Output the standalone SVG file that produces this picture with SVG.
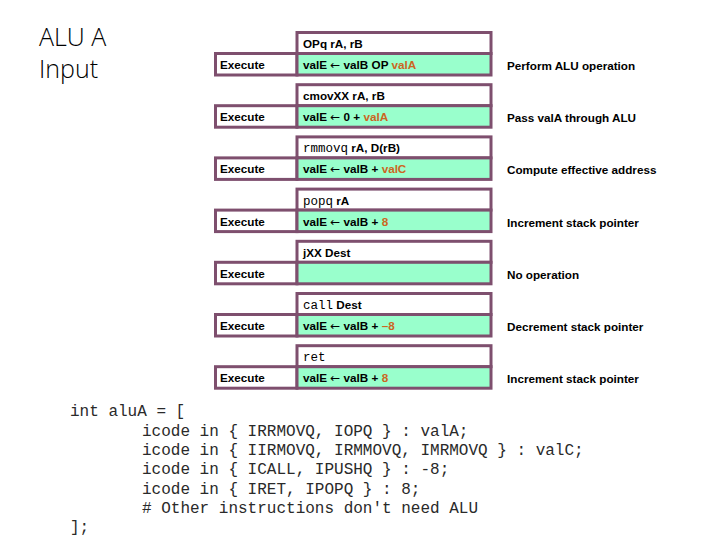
<svg xmlns="http://www.w3.org/2000/svg" width="719" height="539" viewBox="0 0 719 539">
<style>
.bx{fill:#ffffff;stroke:#7E4F6E;stroke-width:3}
.gr{fill:#99FFCC;stroke:#7E4F6E;stroke-width:3}
.t{font-family:"Liberation Sans",Arial,sans-serif;font-size:11.7px;font-weight:bold;fill:#000}
.o{fill:#CC6622}
.a{font-family:"DejaVu Sans",sans-serif;font-weight:normal;font-size:12px}
.m{font-family:"Liberation Mono","Courier New",monospace;font-weight:normal;font-size:12.5px}
.title{font-family:"Open Sans","Liberation Sans",sans-serif;font-weight:300;font-size:25px;fill:#000}
.code{font-family:"Liberation Mono","Courier New",monospace;font-size:16px;fill:#2a2a2a;white-space:pre}
</style>
<g id="title">
<text class="title" x="39" y="46">ALU A<tspan x="39" y="78">Input</tspan></text>
</g>
<g id="row1">
<rect class="bx" x="297" y="32.5" width="194" height="21"/>
<rect class="bx" x="215.5" y="53.5" width="81.5" height="21.5"/>
<rect class="gr" x="297" y="53.5" width="194" height="21.5"/>
<text class="t" x="220" y="69">Execute</text>
<text class="t" x="303" y="48">OPq rA, rB</text>
<text class="t" x="303" y="69">valE <tspan class="a">←</tspan> valB OP <tspan class="o">valA</tspan></text>
<text class="t" x="507" y="70">Perform ALU operation</text>
</g>
<g id="row2" transform="translate(0,52.2)">
<rect class="bx" x="297" y="32.5" width="194" height="21"/>
<rect class="bx" x="215.5" y="53.5" width="81.5" height="21.5"/>
<rect class="gr" x="297" y="53.5" width="194" height="21.5"/>
<text class="t" x="220" y="69">Execute</text>
<text class="t" x="303" y="48">cmovXX rA, rB</text>
<text class="t" x="303" y="69">valE <tspan class="a">←</tspan> 0 + <tspan class="o">valA</tspan></text>
<text class="t" x="507" y="70">Pass valA through ALU</text>
</g>
<g id="row3" transform="translate(0,104.4)">
<rect class="bx" x="297" y="32.5" width="194" height="21"/>
<rect class="bx" x="215.5" y="53.5" width="81.5" height="21.5"/>
<rect class="gr" x="297" y="53.5" width="194" height="21.5"/>
<text class="t" x="220" y="69">Execute</text>
<text class="t" x="303" y="48"><tspan class="m">rmmovq</tspan> rA, D(rB)</text>
<text class="t" x="303" y="69">valE <tspan class="a">←</tspan> valB + <tspan class="o">valC</tspan></text>
<text class="t" x="507" y="70">Compute effective address</text>
</g>
<g id="row4" transform="translate(0,156.6)">
<rect class="bx" x="297" y="32.5" width="194" height="21"/>
<rect class="bx" x="215.5" y="53.5" width="81.5" height="21.5"/>
<rect class="gr" x="297" y="53.5" width="194" height="21.5"/>
<text class="t" x="220" y="69">Execute</text>
<text class="t" x="303" y="48"><tspan class="m">popq</tspan> rA</text>
<text class="t" x="303" y="69">valE <tspan class="a">←</tspan> valB + <tspan class="o">8</tspan></text>
<text class="t" x="507" y="70">Increment stack pointer</text>
</g>
<g id="row5" transform="translate(0,208.8)">
<rect class="bx" x="297" y="32.5" width="194" height="21"/>
<rect class="bx" x="215.5" y="53.5" width="81.5" height="21.5"/>
<rect class="gr" x="297" y="53.5" width="194" height="21.5"/>
<text class="t" x="220" y="69">Execute</text>
<text class="t" x="303" y="48">jXX Dest</text>
<text class="t" x="507" y="70">No operation</text>
</g>
<g id="row6" transform="translate(0,261)">
<rect class="bx" x="297" y="32.5" width="194" height="21"/>
<rect class="bx" x="215.5" y="53.5" width="81.5" height="21.5"/>
<rect class="gr" x="297" y="53.5" width="194" height="21.5"/>
<text class="t" x="220" y="69">Execute</text>
<text class="t" x="303" y="48"><tspan class="m">call</tspan> Dest</text>
<text class="t" x="303" y="69">valE <tspan class="a">←</tspan> valB + <tspan class="o">–8</tspan></text>
<text class="t" x="507" y="70">Decrement stack pointer</text>
</g>
<g id="row7" transform="translate(0,313.2)">
<rect class="bx" x="297" y="32.5" width="194" height="21"/>
<rect class="bx" x="215.5" y="53.5" width="81.5" height="21.5"/>
<rect class="gr" x="297" y="53.5" width="194" height="21.5"/>
<text class="t" x="220" y="69">Execute</text>
<text class="t" x="303" y="48"><tspan class="m">ret</tspan></text>
<text class="t" x="303" y="69">valE <tspan class="a">←</tspan> valB + <tspan class="o">8</tspan></text>
<text class="t" x="507" y="70">Increment stack pointer</text>
</g>
<g id="connectors"></g>
<g id="code">
<text class="code" x="70" y="416">int aluA = [</text>
<text class="code" x="142" y="435.5">icode in { IRRMOVQ, IOPQ } : valA;</text>
<text class="code" x="142" y="455">icode in { IIRMOVQ, IRMMOVQ, IMRMOVQ } : valC;</text>
<text class="code" x="142" y="474">icode in { ICALL, IPUSHQ } : -8;</text>
<text class="code" x="142" y="493.5">icode in { IRET, IPOPQ } : 8;</text>
<text class="code" x="142" y="513"># Other instructions don't need ALU</text>
<text class="code" x="70" y="532">];</text>
</g>
</svg>
